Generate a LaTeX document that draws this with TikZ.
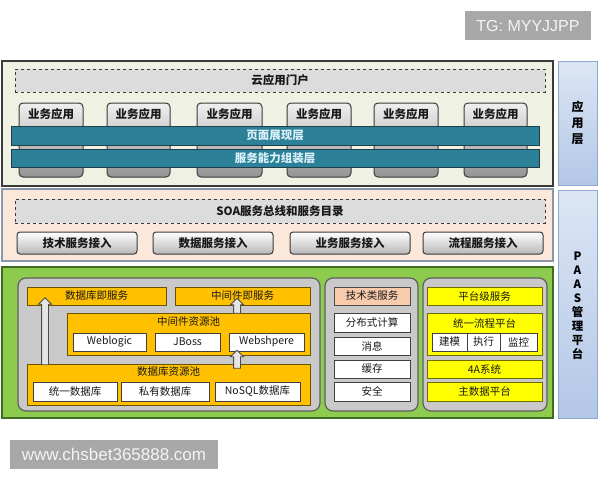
\documentclass[tikz,border=0pt]{standalone}
\usepackage{fontspec}
\setmainfont{Noto Sans CJK SC}
\newfontfamily\wmfont{Liberation Sans}
\usetikzlibrary{shapes.arrows}

\definecolor{appbg}{HTML}{EFF1E2}
\definecolor{appbd}{HTML}{3A3A3A}
\definecolor{soabg}{HTML}{FCE8DA}
\definecolor{soabd}{HTML}{8A97A8}
\definecolor{paasgreen}{HTML}{8DCB4E}
\definecolor{greenbd}{HTML}{3F6E23}
\definecolor{panelgray}{HTML}{C9C9C9}
\definecolor{panelbd}{HTML}{5E5E5E}
\definecolor{orgfill}{HTML}{FFC000}
\definecolor{orgbd}{HTML}{6B5200}
\definecolor{ylwfill}{HTML}{FFFF00}
\definecolor{ylwbd}{HTML}{6E6E00}
\definecolor{peachfill}{HTML}{F8CBAD}
\definecolor{tealfill}{HTML}{2C8199}
\definecolor{tealbd}{HTML}{1E3F4A}
\definecolor{tealtext}{HTML}{DDF3FA}
\definecolor{dashfill}{HTML}{DCDCDC}
\definecolor{sidetop}{HTML}{DCE6F5}
\definecolor{sidebot}{HTML}{B3C7E6}
\definecolor{sidebd}{HTML}{8FA8CF}
\definecolor{wmgray}{HTML}{A8A8A8}
\definecolor{wmtext}{HTML}{F4F4F4}

\tikzset{
  sz/.style 2 args={minimum width=#1pt, minimum height=#2pt},
  blk/.style={anchor=north west, inner sep=0pt, outer sep=0pt},
  boldtxt/.style={font=\bfseries\fontsize{11.5}{13}\selectfont, text=black!90},
  txt/.style={font=\fontsize{10.5}{12}\selectfont, text=black!90},
  layer/.style={blk, draw=#1, line width=1.3pt},
  sidebox/.style={blk, draw=sidebd, line width=1pt, top color=sidetop, bottom color=sidebot},
  sidetxt/.style={font=\bfseries\fontsize{12}{16}\selectfont, align=center},
  dashbox/.style={blk, boldtxt, draw=appbd, dashed, line width=1pt, fill=dashfill},
  appbox/.style={blk, draw=appbd, line width=1pt, rounded corners=4pt, top color=black!6, bottom color=black!42},
  tealbar/.style={blk, draw=tealbd, line width=1pt, fill=tealfill, font=\bfseries\fontsize{11.5}{13}\selectfont, text=tealtext},
  accbox/.style={blk, boldtxt, draw=appbd, line width=1pt, rounded corners=3pt, top color=white, bottom color=black!28},
  panel/.style={blk, draw=panelbd, line width=1.2pt, fill=panelgray, rounded corners=8pt},
  orgbox/.style={blk, txt, draw=orgbd, line width=1pt, fill=orgfill},
  ylwbox/.style={blk, txt, draw=ylwbd, line width=1pt, fill=ylwfill},
  whbox/.style={blk, txt, draw=black!75, line width=1pt, fill=white},
  peachbox/.style={blk, txt, draw=black!70, line width=1pt, fill=peachfill},
  uparrow/.style={single arrow, shape border rotate=90, draw=black!70, fill=black!10, line width=0.9pt,
    inner sep=3pt, minimum width=0pt, single arrow head extend=3pt, single arrow head indent=0pt},
  wmark/.style={blk, fill=wmgray, text=wmtext, font=\wmfont\fontsize{16}{18}\selectfont}
}

\begin{document}
\begin{tikzpicture}[x=1pt,y=1pt,yscale=-1,xscale=1]
\path[use as bounding box] (0,0) rectangle (600,480);

% Text Node
\node[wmark, sz={126}{29}] (tg) at (465,11) {TG: MYYJJPP};
% Text Node
\node[wmark, sz={208}{29}, font=\wmfont\fontsize{17}{19}\selectfont] (url) at (10,440) {www.chsbet365888.com};

%Application layer
\node[layer=appbd, fill=appbg, sz={551}{125}] (applayer) at (2,61) {};
\node[sidebox, sz={39}{124}] (appside) at (558,61) {};
\node[sidetxt] (appsidetxt) at (appside.center) {应\\用\\层};
\node[dashbox, sz={530}{23}] (portal) at (15,69) {云应用门户};

%Business apps
\node[appbox, sz={64}{74}] (app1) at (19,103) {};
\node[appbox, sz={63}{74}] (app2) at (107,103) {};
\node[appbox, sz={65}{74}] (app3) at (197,103) {};
\node[appbox, sz={64}{74}] (app4) at (287,103) {};
\node[appbox, sz={64}{74}] (app5) at (374,103) {};
\node[appbox, sz={63}{74}] (app6) at (464,103) {};
\node[boldtxt] (app1txt) at ([yshift=11pt]app1.north) {业务应用};
\node[boldtxt] (app2txt) at ([yshift=11pt]app2.north) {业务应用};
\node[boldtxt] (app3txt) at ([yshift=11pt]app3.north) {业务应用};
\node[boldtxt] (app4txt) at ([yshift=11pt]app4.north) {业务应用};
\node[boldtxt] (app5txt) at ([yshift=11pt]app5.north) {业务应用};
\node[boldtxt] (app6txt) at ([yshift=11pt]app6.north) {业务应用};

%Teal bars
\node[tealbar, sz={528}{19}] (pagebar) at (11,126) {页面展现层};
\node[tealbar, sz={528}{18}] (svcbar) at (11,149) {服务能力组装层};

%SOA layer
\node[layer=soabd, fill=soabg, sz={551}{72}] (soalayer) at (2,189) {};
\node[sidebox, sz={39}{228}] (paasside) at (558,190) {};
\node[sidetxt, font=\bfseries\fontsize{11.5}{14}\selectfont] (paassidetxt) at ([yshift=2pt]paasside.center) {P\\A\\A\\S\\管\\理\\平\\台};
\node[dashbox, sz={530}{24}] (soabus) at (15,199) {SOA服务总线和服务目录};
\node[accbox, sz={120}{22}] (acc1) at (17,232) {技术服务接入};
\node[accbox, sz={120}{22}] (acc2) at (153,232) {数据服务接入};
\node[accbox, sz={120}{22}] (acc3) at (290,232) {业务服务接入};
\node[accbox, sz={120}{22}] (acc4) at (423,232) {流程服务接入};

%PAAS layer
\node[layer=greenbd, fill=paasgreen, sz={551}{151}] (paaslayer) at (2,267) {};
\node[panel, sz={302}{133}] (leftpanel) at (18,278) {};
\node[panel, sz={93}{133}] (midpanel) at (325,278) {};
\node[panel, sz={124}{133}] (rightpanel) at (423,278) {};

%Left panel
\node[orgbox, sz={139}{18}] (dbsvc) at (27,287) {数据库即服务};
\node[orgbox, sz={135}{18}] (mwsvc) at (175,287) {中间件即服务};
\node[orgbox, sz={243}{42}] (mwpool) at (67,313) {};
\node[txt] (mwpooltxt) at ([yshift=9pt]mwpool.north) {中间件资源池};
\node[whbox, sz={73}{18}] (weblogic) at (73,333) {Weblogic};
\node[whbox, sz={65}{18}] (jboss) at (155,333) {JBoss};
\node[whbox, sz={75}{18}] (websphere) at (229,333) {Webshpere};
\node[orgbox, sz={283}{41}] (dbpool) at (27,364) {};
\node[txt] (dbpooltxt) at ([yshift=8pt]dbpool.north) {数据库资源池};
\node[whbox, sz={84}{19}] (db1) at (33,382) {统一数据库};
\node[whbox, sz={88}{19}] (db2) at (121,382) {私有数据库};
\node[whbox, sz={85}{19}] (db3) at (215,382) {NoSQL数据库};

%Block arrows
\node[uparrow, minimum height=67pt] (arrdb) at (45,333) {};
\node[uparrow, minimum height=15pt] (arrmw) at (237,307.5) {};
\node[uparrow, minimum height=18pt] (arrpool) at (237,361) {};

%Middle panel
\node[peachbox, sz={76}{18}] (techsvc) at (334,287) {技术类服务};
\node[whbox, sz={76}{19}] (distcalc) at (334,313) {分布式计算};
\node[whbox, sz={76}{18}] (msg) at (334,337) {消息};
\node[whbox, sz={76}{18}] (cache) at (334,360) {缓存};
\node[whbox, sz={76}{19}] (security) at (334,382) {安全};

%Right panel
\node[ylwbox, sz={115}{18}] (platsvc) at (427,287) {平台级服务};
\node[ylwbox, sz={115}{42}] (flowpf) at (427,313) {};
\node[txt] (flowpftxt) at ([yshift=10pt]flowpf.north) {统一流程平台};
\node[whbox, sz={35}{18}] (modeling) at (432,333) {建模};
\node[whbox, sz={33}{18}] (execute) at (467,333) {执行};
\node[whbox, sz={37}{18}] (monitor) at (500,333) {监控};
\node[ylwbox, sz={115}{18}] (foura) at (427,360) {4A系统};
\node[ylwbox, sz={115}{19}] (mdm) at (427,382) {主数据平台};

\end{tikzpicture}
\end{document}
